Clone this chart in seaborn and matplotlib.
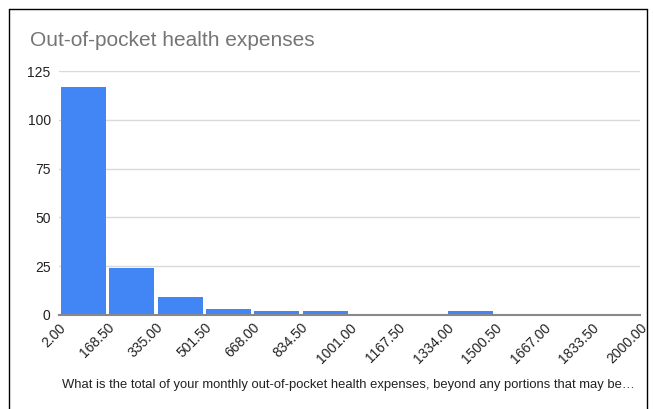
import matplotlib
matplotlib.use("Agg")
import matplotlib.pyplot as plt
import seaborn as sns
import numpy as np
import pandas as pd
from matplotlib.lines import Line2D

bin_edges = [2.00, 168.50, 335.00, 501.50, 668.00, 834.50, 1001.00, 1167.50,
             1334.00, 1500.50, 1667.00, 1833.50, 2000.00]
counts = [117, 24, 9, 3, 2, 2, 0, 0, 2, 0, 0, 0]
tick_labels = ["2.00", "168.50", "335.00", "501.50", "668.00", "834.50", "1001.00",
               "1167.50", "1334.00", "1500.50", "1667.00", "1833.50", "2000.00"]
y_ticks = [0, 25, 50, 75, 100, 125]
title = "Out-of-pocket health expenses"
xlabel = "What is the total of your monthly out-of-pocket health expenses, beyond any portions that may be\u2026"

centers = [(a + b) / 2 for a, b in zip(bin_edges[:-1], bin_edges[1:])]
df = pd.DataFrame({"value": centers, "count": counts})

sns.set_theme(style="white")
plt.rcParams["font.family"] = ["Liberation Sans", "DejaVu Sans"]

fig = plt.figure(figsize=(6.53, 4.09), dpi=100)
ax = fig.add_axes([59 / 653, 1 - 315 / 409, (640 - 59) / 653, (315 - 71) / 409])

sns.histplot(data=df, x="value", weights="count", bins=bin_edges, ax=ax,
             color="#4285F4", alpha=1.0, edgecolor="none", linewidth=0, shrink=0.93)

ax.set_xlim(bin_edges[0], bin_edges[-1])
ax.set_ylim(0, 125)
ax.set_yticks(y_ticks)
ax.set_yticklabels([str(v) for v in y_ticks], fontsize=10, color="#222222")
ax.set_xticks(bin_edges)
ax.set_xticklabels(tick_labels, rotation=45, ha="right", va="top", fontsize=10,
                   color="#222222", rotation_mode="anchor")
ax.tick_params(axis="both", length=0, pad=6)
ax.tick_params(axis="x", pad=4)
ax.grid(axis="y", color="#d9d9d9", linewidth=1)
ax.set_axisbelow(True)
for s in ["top", "right", "left"]:
    ax.spines[s].set_visible(False)
ax.spines["bottom"].set_color("#888888")
ax.spines["bottom"].set_linewidth(1.5)
ax.set_ylabel("")
ax.set_xlabel("")

fig.text(30 / 653, 1 - 40 / 409, title, fontsize=15, color="#757575", va="center", ha="left")
fig.text(348 / 653, 1 - 385 / 409, xlabel, fontsize=9.35, color="#222222", va="center", ha="center")

# outer frame (top, left, right)
fx0, fx1, fy1 = 9 / 653, 647 / 653, 1 - 9 / 409
fig.add_artist(Line2D([fx0, fx1], [fy1, fy1], color="black", linewidth=1, transform=fig.transFigure))
fig.add_artist(Line2D([fx0, fx0], [0, fy1], color="black", linewidth=1, transform=fig.transFigure))
fig.add_artist(Line2D([fx1, fx1], [0, fy1], color="black", linewidth=1, transform=fig.transFigure))

fig.savefig("out.png", dpi=100)
